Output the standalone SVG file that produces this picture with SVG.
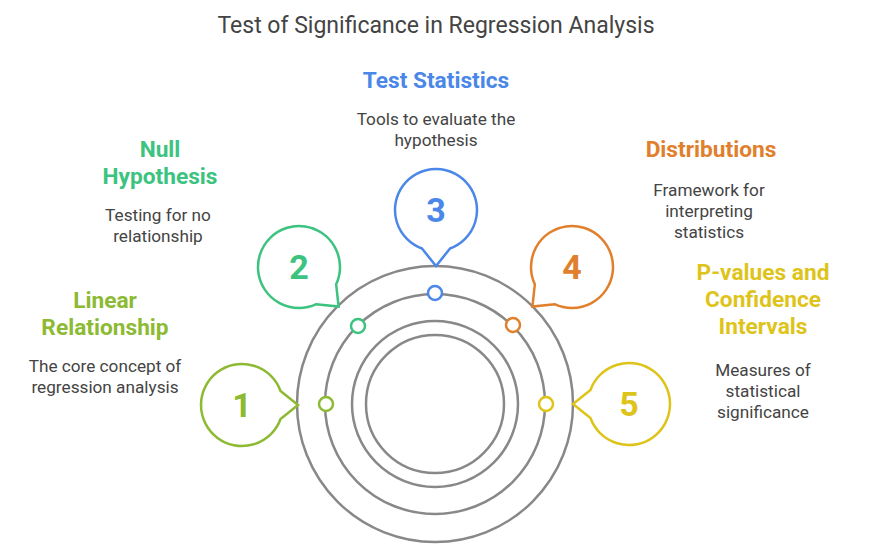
<svg xmlns="http://www.w3.org/2000/svg" width="884" height="553" viewBox="0 0 884 553">
<defs>
<style>
text{font-family:Roboto,"Liberation Sans",sans-serif}
.title{font-size:23px;fill:#444;text-anchor:middle}
.lbl{font-size:22.7px;font-weight:bold;text-anchor:middle}
.desc{font-size:17.2px;fill:#444;text-anchor:middle}
.num{font-size:34px;font-weight:bold;text-anchor:middle}
.ring{fill:none;stroke:#888;stroke-width:2.5}
.bub{fill:#fff;stroke-width:2.5;stroke-linejoin:miter}
.dot{fill:#fff;stroke-width:2.5}
.c1{fill:#8DBA33;stroke:#8DBA33}
.c2{fill:#3CC37F;stroke:#3CC37F}
.c3{fill:#4A87E8;stroke:#4A87E8}
.c4{fill:#E0802C;stroke:#E0802C}
.c5{fill:#DEC41A;stroke:#DEC41A}
</style>
<path id="bubble" d="M38.53 14.02 A41 41 0 1 1 38.53 -14.02 L56 0 Z"/>
</defs>
<rect width="884" height="553" fill="#fff"/>
<text class="title" x="436" y="33">Test of Significance in Regression Analysis</text>

<g id="rings">
<circle class="ring" cx="435" cy="404" r="138"/>
<circle class="ring" cx="435" cy="404" r="110"/>
<circle class="ring" cx="435" cy="404" r="83"/>
<circle class="ring" cx="435" cy="404" r="69"/>
</g>

<g id="node1">
<use href="#bubble" class="bub c1" style="fill:#fff" transform="translate(242,405)"/>
<text class="num c1" style="stroke:none" x="242" y="417">1</text>
<circle class="dot c1" style="fill:#fff" cx="326" cy="404" r="7"/>
<text class="lbl c1" style="stroke:none" x="105" y="308">Linear</text>
<text class="lbl c1" style="stroke:none" x="105" y="335">Relationship</text>
<text class="desc" x="105" y="372">The core concept of</text>
<text class="desc" x="105" y="393">regression analysis</text>
</g>

<g id="node2">
<use href="#bubble" class="bub c2" style="fill:#fff" transform="translate(299,267) rotate(45)"/>
<text class="num c2" style="stroke:none" x="299" y="279">2</text>
<circle class="dot c2" style="fill:#fff" cx="358" cy="326" r="7"/>
<text class="lbl c2" style="stroke:none" x="160" y="157">Null</text>
<text class="lbl c2" style="stroke:none" x="160" y="184">Hypothesis</text>
<text class="desc" x="158" y="221">Testing for no</text>
<text class="desc" x="158" y="242">relationship</text>
</g>

<g id="node3">
<use href="#bubble" class="bub c3" style="fill:#fff" transform="translate(436,210) rotate(90)"/>
<text class="num c3" style="stroke:none" x="436" y="222">3</text>
<circle class="dot c3" style="fill:#fff" cx="435" cy="293" r="7"/>
<text class="lbl c3" style="stroke:none" x="436" y="88">Test Statistics</text>
<text class="desc" x="436" y="125">Tools to evaluate the</text>
<text class="desc" x="436" y="146">hypothesis</text>
</g>

<g id="node4">
<use href="#bubble" class="bub c4" style="fill:#fff" transform="translate(572,267) rotate(135)"/>
<text class="num c4" style="stroke:none" x="572" y="279">4</text>
<circle class="dot c4" style="fill:#fff" cx="513" cy="325" r="7"/>
<text class="lbl c4" style="stroke:none" x="711" y="157">Distributions</text>
<text class="desc" x="709" y="196">Framework for</text>
<text class="desc" x="709" y="217">interpreting</text>
<text class="desc" x="709" y="238">statistics</text>
</g>

<g id="node5">
<use href="#bubble" class="bub c5" style="fill:#fff" transform="translate(629,404) rotate(180)"/>
<text class="num c5" style="stroke:none" x="629" y="416">5</text>
<circle class="dot c5" style="fill:#fff" cx="546" cy="404" r="7"/>
<text class="lbl c5" style="stroke:none" x="763" y="280">P-values and</text>
<text class="lbl c5" style="stroke:none" x="763" y="307">Confidence</text>
<text class="lbl c5" style="stroke:none" x="763" y="334">Intervals</text>
<text class="desc" x="763" y="376">Measures of</text>
<text class="desc" x="763" y="397">statistical</text>
<text class="desc" x="763" y="418">significance</text>
</g>
</svg>
